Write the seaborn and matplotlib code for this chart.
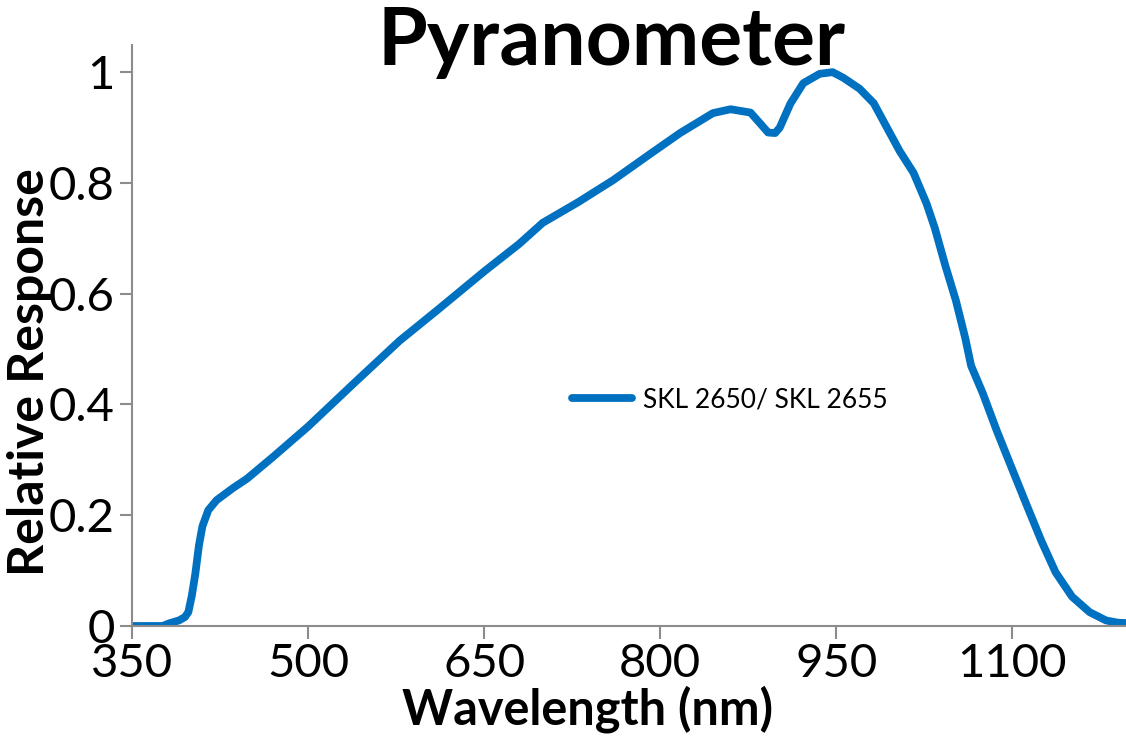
import numpy as np
import pandas as pd
import seaborn as sns
import matplotlib.pyplot as plt

# spectral response
wavelength = [350, 365, 376, 382, 390, 395, 398, 401, 404, 407, 410, 415, 422, 436,
              448, 470, 500, 540, 578, 610, 650, 680, 700, 730, 760, 790, 817,
              845, 860, 877, 885, 892, 898, 902, 911, 922, 936, 947, 956, 970,
              982, 993, 1004, 1016, 1027, 1034, 1043, 1052, 1060, 1065, 1075,
              1087, 1101, 1113, 1125, 1137, 1151, 1166, 1180, 1190, 1200]
response = [0.0, 0.0, 0.0, 0.005, 0.01, 0.016, 0.025, 0.055, 0.095, 0.145, 0.18,
            0.209, 0.227, 0.249, 0.266, 0.305, 0.36, 0.44, 0.515, 0.57, 0.64,
            0.69, 0.728, 0.765, 0.805, 0.85, 0.89, 0.926, 0.933, 0.927, 0.908,
            0.891, 0.89, 0.9, 0.943, 0.98, 0.997, 1.0, 0.99, 0.97, 0.944, 0.901,
            0.858, 0.818, 0.763, 0.719, 0.651, 0.588, 0.52, 0.47, 0.42, 0.352,
            0.278, 0.215, 0.153, 0.097, 0.053, 0.025, 0.01, 0.006, 0.005]
series_name = "SKL 2650/ SKL 2655"

df = pd.DataFrame({"wavelength": wavelength, "response": response, "series": series_name})

sns.set_style("ticks")
plt.rcParams["font.family"] = ["Lato", "DejaVu Sans"]
plt.rcParams["text.color"] = "black"

fig = plt.figure(figsize=(11.26, 7.36), dpi=100)
ax = fig.add_axes([132 / 1126, 1 - 626 / 736, 1 - 132 / 1126, (626 - 45) / 736])

sns.lineplot(data=df, x="wavelength", y="response", hue="series",
             palette=["#0070C0"], linewidth=5.6, ax=ax)

ax.set_xlim(350, 1197)
ax.set_ylim(0, 1.049)
ax.set_xticks([350, 500, 650, 800, 950, 1100])
ax.set_yticks([0, 0.2, 0.4, 0.6, 0.8, 1.0])
ax.set_yticklabels(["0", "0.2", "0.4", "0.6", "0.8", "1"])
ax.tick_params(axis="both", labelsize=34, color="#8c8c8c", length=9, width=1.5,
               labelcolor="black")
ax.tick_params(axis="x", pad=3)
for side in ["top", "right"]:
    ax.spines[side].set_visible(False)
for side in ["left", "bottom"]:
    ax.spines[side].set_color("#8c8c8c")
    ax.spines[side].set_linewidth(1.5)

ax.set_xlabel("")
ax.set_ylabel("")
fig.text(588 / 1126, 1 - 709 / 736, "Wavelength (nm)", fontsize=35, fontweight="bold",
         ha="center", va="center", color="black")
fig.text(30 / 1126, 1 - 372 / 736, "Relative Response", fontsize=36, fontweight="bold",
         ha="center", va="center", rotation=90, color="black")
fig.text(612 / 1126, 1 - 42 / 736, "Pyranometer", fontsize=58, fontweight="bold",
         ha="center", va="center", color="black")

leg = ax.legend(loc="center left", bbox_to_anchor=((548 - 132) / 994, (626 - 400) / 581),
                frameon=False, fontsize=19, handlelength=2.3, handletextpad=0.4)
for t in leg.get_texts():
    t.set_color("black")

fig.savefig("out.png", dpi=100)
